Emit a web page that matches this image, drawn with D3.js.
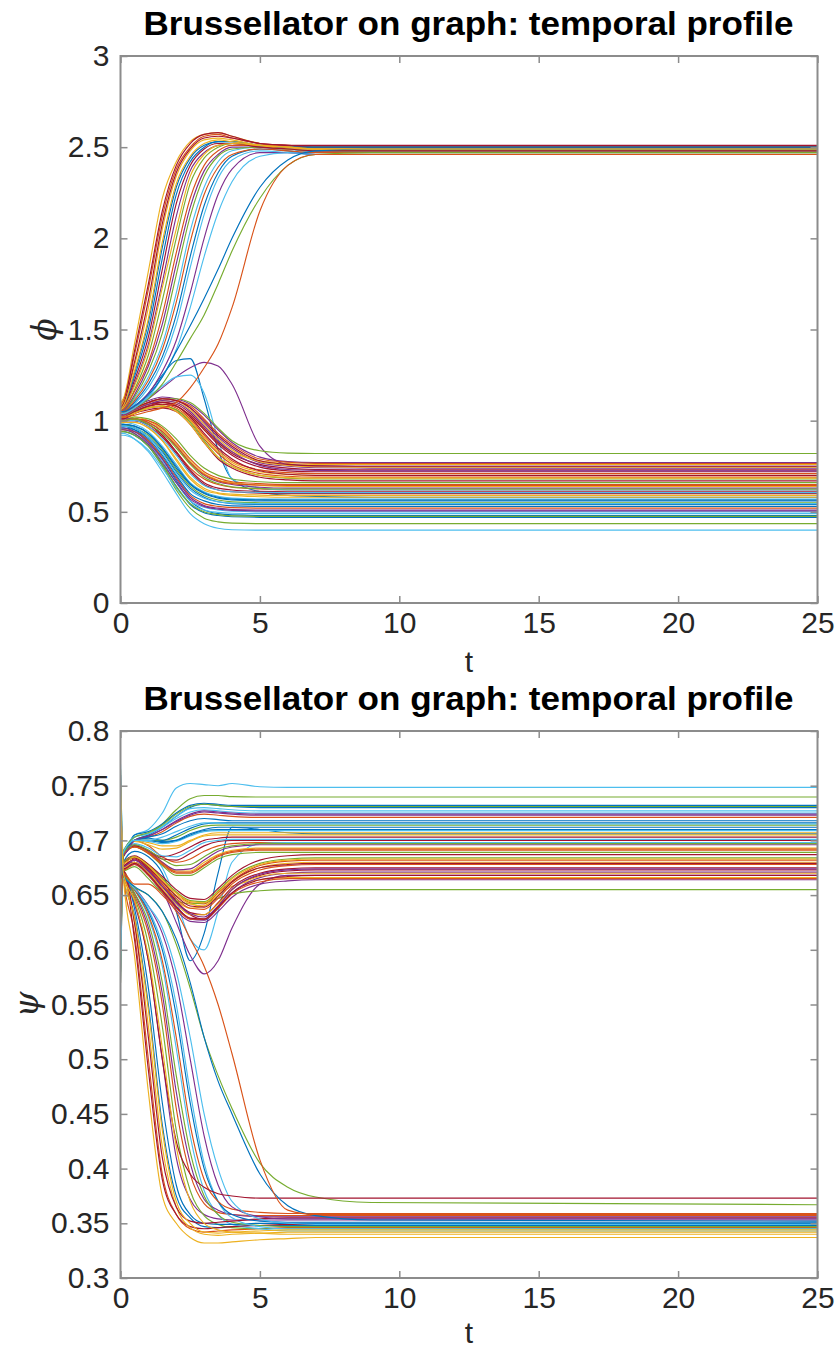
<!DOCTYPE html>
<html><head><meta charset="utf-8">
<script src="https://cdn.jsdelivr.net/npm/d3@7"></script>
<style>body{margin:0;background:#fff}svg{display:block}</style>
</head><body>
<script>
// ---------- DATA ----------
const tSamples = [0, 0.1, 0.5, 1, 1.5, 2, 2.5, 3, 3.5, 4, 5, 6, 7, 9, 25];

// phi for nodes that go to the upper steady state (~2.5)
const phiUpper = [
 [1.07,1.08,1.26,1.54,1.95,2.28,2.44,2.51,2.53,2.53,2.51,2.50,2.50,2.50,2.50],
 [1.09,1.11,1.36,1.72,2.12,2.38,2.50,2.56,2.57,2.55,2.52,2.51,2.50,2.50,2.50],
 [1.10,1.12,1.42,1.82,2.22,2.42,2.53,2.57,2.58,2.56,2.52,2.50,2.49,2.49,2.49],
 [1.05,1.06,1.20,1.42,1.76,2.12,2.37,2.47,2.51,2.52,2.50,2.49,2.49,2.49,2.49],
 [1.04,1.05,1.17,1.36,1.66,2.00,2.30,2.44,2.50,2.52,2.51,2.50,2.50,2.50,2.50],
 [1.04,1.05,1.12,1.24,1.42,1.70,2.04,2.28,2.42,2.48,2.50,2.49,2.47,2.47,2.47],
 [1.08,1.10,1.38,1.75,2.15,2.40,2.52,2.57,2.58,2.56,2.52,2.51,2.50,2.50,2.50],
 [1.05,1.07,1.24,1.50,1.89,2.24,2.42,2.50,2.53,2.53,2.51,2.50,2.50,2.50,2.50],
 [1.05,1.06,1.16,1.32,1.58,1.92,2.22,2.40,2.48,2.51,2.51,2.50,2.49,2.49,2.49],
 [1.08,1.10,1.30,1.62,2.05,2.34,2.48,2.54,2.55,2.54,2.51,2.50,2.49,2.49,2.49],
 [1.04,1.05,1.14,1.30,1.53,1.86,2.17,2.37,2.46,2.50,2.50,2.49,2.48,2.48,2.48],
 [1.05,1.05,1.13,1.27,1.48,1.80,2.12,2.34,2.45,2.49,2.50,2.49,2.48,2.48,2.48],
 [1.04,1.04,1.09,1.18,1.32,1.53,1.84,2.13,2.33,2.43,2.48,2.47,2.46,2.46,2.46],
 [1.07,1.09,1.32,1.66,2.08,2.36,2.49,2.55,2.56,2.55,2.52,2.51,2.51,2.51,2.51],
 [1.03,1.04,1.10,1.20,1.35,1.58,1.90,2.18,2.36,2.45,2.49,2.48,2.46,2.46,2.46],
 [1.05,1.05,1.11,1.22,1.39,1.65,1.98,2.24,2.39,2.46,2.49,2.48,2.47,2.47,2.47],
 [1.06,1.08,1.27,1.56,1.98,2.30,2.45,2.52,2.54,2.53,2.51,2.49,2.49,2.49,2.49],
 [1.03,1.04,1.08,1.15,1.27,1.44,1.70,2.00,2.24,2.38,2.47,2.47,2.46,2.46,2.46],
 [1.04,1.04,1.07,1.12,1.20,1.32,1.45,1.58,1.75,1.93,2.22,2.40,2.46,2.47,2.47],
 [1.04,1.04,1.07,1.13,1.24,1.39,1.62,1.90,2.14,2.31,2.45,2.47,2.46,2.46,2.46],
 [1.06,1.07,1.22,1.46,1.83,2.19,2.40,2.49,2.52,2.52,2.50,2.49,2.48,2.48,2.48],
 [1.05,1.05,1.08,1.14,1.24,1.38,1.52,1.67,1.83,2.00,2.28,2.43,2.48,2.49,2.49],
 [1.02,1.02,1.03,1.05,1.07,1.10,1.18,1.29,1.42,1.62,2.15,2.40,2.46,2.46,2.46],
 [1.06,1.07,1.19,1.40,1.73,2.05,2.34,2.46,2.51,2.52,2.51,2.50,2.49,2.49,2.49]
];

// psi for the same nodes (they go to the lower steady state ~0.35)
const psiLower = [
 [0.69,0.667,0.632,0.55,0.44,0.375,0.355,0.347,0.346,0.347,0.348,0.348,0.348,0.348,0.348],
 [0.70,0.668,0.615,0.50,0.395,0.358,0.345,0.342,0.343,0.344,0.345,0.346,0.346,0.346,0.346],
 [0.765,0.668,0.595,0.47,0.375,0.350,0.337,0.332,0.332,0.333,0.335,0.336,0.337,0.337,0.337],
 [0.60,0.665,0.642,0.59,0.50,0.41,0.372,0.358,0.354,0.353,0.353,0.353,0.353,0.353,0.353],
 [0.67,0.668,0.648,0.605,0.53,0.435,0.38,0.357,0.349,0.346,0.345,0.345,0.345,0.345,0.345],
 [0.76,0.67,0.655,0.63,0.585,0.51,0.43,0.38,0.358,0.349,0.345,0.343,0.343,0.343,0.343],
 [0.62,0.67,0.61,0.49,0.39,0.358,0.347,0.345,0.346,0.347,0.348,0.349,0.349,0.349,0.349],
 [0.64,0.672,0.638,0.565,0.46,0.385,0.358,0.350,0.349,0.349,0.350,0.350,0.350,0.350,0.350],
 [0.63,0.672,0.65,0.615,0.55,0.455,0.395,0.368,0.36,0.358,0.357,0.357,0.357,0.357,0.357],
 [0.58,0.665,0.625,0.53,0.42,0.365,0.346,0.340,0.339,0.340,0.341,0.342,0.342,0.342,0.342],
 [0.72,0.668,0.652,0.62,0.56,0.47,0.405,0.372,0.362,0.358,0.356,0.356,0.356,0.356,0.356],
 [0.59,0.667,0.652,0.625,0.57,0.485,0.415,0.375,0.358,0.351,0.348,0.347,0.347,0.347,0.347],
 [0.73,0.67,0.656,0.637,0.605,0.55,0.47,0.405,0.37,0.355,0.347,0.345,0.345,0.345,0.345],
 [0.66,0.672,0.625,0.52,0.41,0.365,0.352,0.350,0.351,0.352,0.354,0.355,0.355,0.355,0.355],
 [0.61,0.666,0.655,0.635,0.60,0.54,0.46,0.40,0.37,0.358,0.352,0.351,0.351,0.351,0.351],
 [0.65,0.668,0.655,0.632,0.59,0.52,0.44,0.39,0.37,0.363,0.36,0.359,0.359,0.359,0.359],
 [0.74,0.67,0.63,0.545,0.435,0.37,0.350,0.342,0.341,0.342,0.343,0.344,0.344,0.344,0.344],
 [0.68,0.668,0.657,0.64,0.615,0.57,0.50,0.43,0.385,0.365,0.356,0.354,0.354,0.354,0.354],
 [0.66,0.667,0.657,0.65,0.635,0.605,0.565,0.52,0.485,0.455,0.405,0.383,0.374,0.369,0.367],
 [0.57,0.665,0.656,0.64,0.62,0.58,0.52,0.45,0.40,0.37,0.354,0.350,0.349,0.349,0.349],
 [0.71,0.67,0.645,0.59,0.50,0.425,0.395,0.383,0.377,0.375,0.373,0.373,0.373,0.373,0.373],
 [0.70,0.668,0.658,0.65,0.635,0.61,0.57,0.52,0.48,0.45,0.395,0.366,0.357,0.353,0.352],
 [0.62,0.67,0.66,0.66,0.65,0.635,0.61,0.585,0.55,0.505,0.408,0.362,0.358,0.358,0.358],
 [0.75,0.67,0.645,0.595,0.51,0.42,0.37,0.350,0.344,0.342,0.341,0.340,0.340,0.340,0.340]
];

// phi for nodes that go to the lower steady state (~0.4-0.8)
const phiLower = [
 [1.05,1.05,1.08,1.15,1.25,1.33,1.34,1.12,0.84,0.68,0.61,0.59,0.585,0.58,0.58],
 [1.00,1.00,1.01,0.98,0.92,0.83,0.74,0.68,0.65,0.635,0.625,0.62,0.62,0.62,0.62],
 [1.03,1.03,1.06,1.09,1.10,1.08,1.02,0.95,0.88,0.83,0.78,0.765,0.76,0.76,0.76],
 [1.04,1.04,1.07,1.12,1.18,1.24,1.29,1.32,1.30,1.20,0.86,0.76,0.752,0.75,0.75],
 [0.95,0.95,0.93,0.86,0.75,0.62,0.52,0.465,0.445,0.438,0.435,0.435,0.435,0.435,0.435],
 [1.06,1.06,1.08,1.13,1.19,1.24,1.25,1.15,0.90,0.68,0.63,0.62,0.62,0.62,0.62],
 [1.02,1.02,1.05,1.08,1.10,1.09,1.04,0.96,0.88,0.82,0.76,0.74,0.732,0.73,0.73],
 [0.97,0.97,0.95,0.89,0.79,0.67,0.56,0.51,0.49,0.483,0.48,0.48,0.48,0.48,0.48],
 [1.01,1.01,1.04,1.07,1.08,1.06,1.00,0.90,0.82,0.76,0.71,0.695,0.69,0.69,0.69],
 [0.99,0.99,0.99,0.96,0.89,0.78,0.68,0.62,0.60,0.59,0.583,0.58,0.58,0.58,0.58],
 [1.05,1.05,1.08,1.11,1.13,1.12,1.09,1.03,0.95,0.88,0.80,0.775,0.77,0.77,0.77],
 [1.03,1.03,1.06,1.10,1.12,1.12,1.10,1.04,0.96,0.89,0.835,0.822,0.82,0.82,0.82],
 [0.93,0.93,0.90,0.83,0.72,0.60,0.49,0.435,0.41,0.402,0.40,0.40,0.40,0.40,0.40],
 [1.00,1.00,1.00,0.97,0.91,0.82,0.72,0.65,0.62,0.61,0.603,0.60,0.60,0.60,0.60],
 [0.94,0.94,0.92,0.86,0.76,0.64,0.54,0.495,0.48,0.473,0.47,0.47,0.47,0.47,0.47],
 [1.02,1.02,1.05,1.08,1.09,1.07,1.01,0.92,0.84,0.78,0.73,0.715,0.71,0.71,0.71],
 [1.01,1.01,1.02,1.00,0.95,0.87,0.78,0.71,0.675,0.66,0.645,0.64,0.64,0.64,0.64],
 [1.04,1.04,1.07,1.10,1.12,1.11,1.07,0.99,0.91,0.85,0.77,0.75,0.742,0.74,0.74],
 [1.00,1.00,1.02,1.01,0.97,0.90,0.81,0.74,0.70,0.68,0.665,0.66,0.66,0.66,0.66],
 [0.96,0.96,0.94,0.88,0.78,0.66,0.56,0.525,0.51,0.503,0.50,0.50,0.50,0.50,0.50],
 [1.03,1.03,1.06,1.09,1.10,1.08,1.03,0.95,0.87,0.81,0.745,0.725,0.72,0.72,0.72],
 [0.98,0.98,0.97,0.93,0.85,0.74,0.65,0.60,0.575,0.565,0.56,0.56,0.56,0.56,0.56],
 [0.95,0.95,0.94,0.89,0.80,0.69,0.59,0.545,0.53,0.523,0.52,0.52,0.52,0.52,0.52],
 [1.02,1.02,1.04,1.07,1.08,1.06,1.00,0.91,0.83,0.77,0.72,0.705,0.70,0.70,0.70],
 [1.01,1.01,1.01,0.99,0.94,0.86,0.77,0.70,0.665,0.65,0.635,0.63,0.63,0.63,0.63],
 [0.98,0.98,0.96,0.92,0.84,0.73,0.64,0.59,0.565,0.555,0.55,0.55,0.55,0.55,0.55],
 [0.92,0.92,0.90,0.84,0.74,0.63,0.545,0.51,0.497,0.492,0.49,0.49,0.49,0.49,0.49],
 [1.01,1.01,1.04,1.06,1.07,1.05,0.98,0.88,0.79,0.74,0.69,0.675,0.67,0.67,0.67],
 [0.97,0.97,0.96,0.91,0.83,0.72,0.63,0.58,0.555,0.545,0.54,0.54,0.54,0.54,0.54],
 [1.00,1.00,1.01,1.00,0.96,0.88,0.79,0.72,0.685,0.665,0.655,0.65,0.65,0.65,0.65],
 [1.03,1.03,1.06,1.10,1.11,1.10,1.06,0.98,0.90,0.84,0.775,0.755,0.747,0.745,0.745],
 [0.95,0.95,0.93,0.87,0.77,0.66,0.57,0.53,0.515,0.508,0.505,0.505,0.505,0.505,0.505],
 [1.02,1.02,1.05,1.07,1.08,1.06,0.99,0.89,0.80,0.75,0.70,0.685,0.68,0.68,0.68],
 [0.99,0.99,0.98,0.94,0.86,0.76,0.66,0.61,0.585,0.575,0.57,0.57,0.57,0.57,0.57],
 [1.00,1.00,1.00,0.98,0.92,0.83,0.73,0.66,0.63,0.62,0.612,0.61,0.61,0.61,0.61],
 [0.96,0.96,0.95,0.90,0.81,0.70,0.60,0.56,0.54,0.533,0.53,0.53,0.53,0.53,0.53],
 [1.04,1.04,1.07,1.10,1.12,1.11,1.08,1.01,0.93,0.87,0.79,0.772,0.766,0.765,0.765],
 [0.99,0.99,0.99,0.96,0.89,0.79,0.69,0.63,0.605,0.597,0.592,0.59,0.59,0.59,0.59],
 [1.03,1.03,1.06,1.09,1.11,1.10,1.05,0.97,0.89,0.83,0.755,0.732,0.727,0.725,0.725],
 [0.94,0.94,0.92,0.86,0.76,0.64,0.545,0.50,0.485,0.478,0.475,0.475,0.475,0.475,0.475],
 [1.00,1.00,1.00,0.97,0.90,0.81,0.71,0.645,0.62,0.61,0.607,0.605,0.605,0.605,0.605],
 [1.02,1.02,1.05,1.08,1.09,1.08,1.02,0.93,0.85,0.79,0.725,0.706,0.70,0.70,0.70],
 [0.98,0.98,0.97,0.93,0.85,0.75,0.655,0.605,0.58,0.57,0.566,0.565,0.565,0.565,0.565],
 [1.00,1.00,1.01,0.99,0.94,0.86,0.77,0.705,0.67,0.655,0.647,0.645,0.645,0.645,0.645],
 [1.02,1.02,1.04,1.07,1.08,1.05,0.98,0.88,0.80,0.75,0.70,0.688,0.685,0.685,0.685],
 [0.96,0.96,0.94,0.88,0.79,0.68,0.58,0.535,0.52,0.513,0.51,0.51,0.51,0.51,0.51],
 [1.00,1.00,1.01,0.98,0.93,0.85,0.76,0.69,0.655,0.637,0.628,0.625,0.625,0.625,0.625],
 [0.97,0.97,0.96,0.91,0.82,0.71,0.62,0.575,0.555,0.548,0.545,0.545,0.545,0.545,0.545],
 [1.04,1.04,1.07,1.10,1.12,1.11,1.07,1.00,0.92,0.86,0.78,0.76,0.752,0.75,0.75]
];

// psi for the same nodes (they go to the upper steady state ~0.65-0.75)
const psiUpper = [
 [0.64,0.68,0.69,0.685,0.67,0.635,0.59,0.615,0.67,0.712,0.71,0.707,0.706,0.706,0.706],
 [0.72,0.69,0.70,0.695,0.685,0.68,0.683,0.69,0.695,0.697,0.698,0.698,0.698,0.698,0.698],
 [0.59,0.675,0.68,0.67,0.658,0.645,0.638,0.64,0.65,0.658,0.664,0.666,0.666,0.666,0.666],
 [0.70,0.68,0.685,0.675,0.655,0.625,0.595,0.578,0.59,0.62,0.66,0.668,0.668,0.668,0.668],
 [0.60,0.685,0.70,0.705,0.715,0.728,0.738,0.741,0.741,0.740,0.7397,0.7397,0.7397,0.7397,0.7397],
 [0.76,0.69,0.695,0.69,0.675,0.645,0.61,0.60,0.635,0.68,0.697,0.698,0.698,0.698,0.698],
 [0.66,0.675,0.68,0.672,0.66,0.645,0.632,0.628,0.64,0.655,0.668,0.672,0.673,0.673,0.673],
 [0.58,0.685,0.70,0.705,0.712,0.722,0.73,0.733,0.732,0.731,0.730,0.730,0.730,0.730,0.730],
 [0.74,0.68,0.685,0.678,0.665,0.652,0.643,0.642,0.652,0.663,0.677,0.681,0.682,0.682,0.682],
 [0.67,0.69,0.70,0.698,0.695,0.695,0.70,0.705,0.707,0.707,0.707,0.707,0.707,0.707,0.707],
 [0.62,0.672,0.678,0.668,0.652,0.636,0.626,0.625,0.635,0.648,0.66,0.663,0.664,0.664,0.664],
 [0.71,0.672,0.676,0.665,0.652,0.645,0.642,0.643,0.647,0.651,0.654,0.655,0.655,0.655,0.655],
 [0.765,0.69,0.705,0.71,0.725,0.748,0.752,0.751,0.75,0.752,0.749,0.7485,0.7485,0.7485,0.7485],
 [0.63,0.685,0.695,0.69,0.685,0.688,0.694,0.70,0.702,0.703,0.703,0.703,0.703,0.703,0.703],
 [0.70,0.69,0.705,0.708,0.715,0.725,0.732,0.734,0.733,0.732,0.732,0.732,0.732,0.732,0.732],
 [0.57,0.676,0.682,0.674,0.66,0.647,0.638,0.637,0.647,0.66,0.673,0.677,0.678,0.678,0.678],
 [0.73,0.688,0.695,0.69,0.68,0.672,0.672,0.68,0.687,0.691,0.693,0.693,0.693,0.693,0.693],
 [0.65,0.674,0.68,0.67,0.655,0.64,0.628,0.627,0.638,0.652,0.666,0.67,0.671,0.671,0.671],
 [0.68,0.686,0.694,0.688,0.677,0.668,0.668,0.675,0.683,0.687,0.689,0.689,0.689,0.689,0.689],
 [0.61,0.688,0.703,0.706,0.712,0.72,0.726,0.728,0.727,0.726,0.725,0.725,0.725,0.725,0.725],
 [0.75,0.677,0.683,0.673,0.658,0.644,0.634,0.632,0.643,0.657,0.67,0.674,0.675,0.675,0.675],
 [0.66,0.69,0.70,0.70,0.698,0.70,0.706,0.71,0.712,0.712,0.712,0.712,0.712,0.712,0.712],
 [0.72,0.687,0.70,0.703,0.708,0.716,0.722,0.724,0.723,0.722,0.721,0.721,0.721,0.721,0.721],
 [0.59,0.678,0.684,0.676,0.663,0.65,0.642,0.64,0.65,0.662,0.675,0.679,0.68,0.68,0.68],
 [0.69,0.688,0.696,0.69,0.68,0.673,0.674,0.682,0.69,0.694,0.696,0.696,0.696,0.696,0.696],
 [0.64,0.69,0.70,0.70,0.70,0.703,0.709,0.713,0.714,0.714,0.714,0.714,0.714,0.714,0.714],
 [0.77,0.688,0.703,0.706,0.713,0.722,0.729,0.73,0.729,0.728,0.727,0.727,0.727,0.727,0.727],
 [0.62,0.68,0.686,0.678,0.667,0.655,0.647,0.646,0.656,0.668,0.682,0.686,0.687,0.687,0.687],
 [0.70,0.69,0.70,0.702,0.70,0.705,0.711,0.715,0.716,0.716,0.716,0.716,0.716,0.716,0.716],
 [0.61,0.687,0.694,0.688,0.678,0.67,0.67,0.677,0.685,0.689,0.691,0.691,0.691,0.691,0.691],
 [0.75,0.675,0.68,0.67,0.656,0.642,0.632,0.632,0.642,0.655,0.667,0.67,0.67,0.67,0.67],
 [0.58,0.687,0.70,0.704,0.71,0.718,0.724,0.727,0.726,0.725,0.724,0.724,0.724,0.724,0.724],
 [0.67,0.68,0.685,0.677,0.665,0.653,0.645,0.644,0.654,0.666,0.679,0.683,0.684,0.684,0.684],
 [0.74,0.69,0.70,0.699,0.697,0.699,0.704,0.708,0.709,0.709,0.709,0.709,0.709,0.709,0.709],
 [0.60,0.686,0.695,0.691,0.683,0.682,0.688,0.695,0.699,0.70,0.70,0.70,0.70,0.70,0.70],
 [0.66,0.688,0.70,0.703,0.706,0.713,0.718,0.72,0.719,0.718,0.718,0.718,0.718,0.718,0.718],
 [0.71,0.673,0.678,0.668,0.653,0.638,0.628,0.628,0.638,0.651,0.662,0.665,0.665,0.665,0.665],
 [0.63,0.69,0.699,0.696,0.692,0.693,0.699,0.704,0.705,0.705,0.705,0.705,0.705,0.705,0.705],
 [0.76,0.676,0.682,0.672,0.658,0.643,0.633,0.63,0.64,0.655,0.669,0.673,0.674,0.674,0.674],
 [0.57,0.688,0.703,0.707,0.714,0.724,0.731,0.733,0.732,0.731,0.731,0.731,0.731,0.731,0.731],
 [0.69,0.688,0.697,0.693,0.686,0.685,0.691,0.698,0.70,0.701,0.701,0.701,0.701,0.701,0.701],
 [0.65,0.678,0.684,0.675,0.662,0.649,0.64,0.639,0.649,0.662,0.675,0.678,0.679,0.679,0.679],
 [0.72,0.69,0.70,0.70,0.699,0.70,0.705,0.709,0.71,0.71,0.71,0.71,0.71,0.71,0.71],
 [0.62,0.687,0.694,0.689,0.679,0.671,0.671,0.678,0.686,0.69,0.692,0.692,0.692,0.692,0.692],
 [0.68,0.679,0.685,0.677,0.664,0.652,0.644,0.643,0.653,0.665,0.678,0.682,0.683,0.683,0.683],
 [0.74,0.687,0.70,0.704,0.71,0.717,0.723,0.726,0.725,0.724,0.723,0.723,0.723,0.723,0.723],
 [0.59,0.688,0.696,0.691,0.683,0.677,0.678,0.685,0.692,0.695,0.697,0.697,0.697,0.697,0.697],
 [0.67,0.689,0.70,0.70,0.703,0.708,0.713,0.716,0.716,0.715,0.715,0.715,0.715,0.715,0.715],
 [0.73,0.674,0.679,0.669,0.654,0.639,0.629,0.628,0.639,0.652,0.664,0.667,0.668,0.668,0.668]
];

const xTicks = [0, 5, 10, 15, 20, 25];
const phiTicks = [0, 0.5, 1, 1.5, 2, 2.5, 3];
const phiTickLabels = ["0", "0.5", "1", "1.5", "2", "2.5", "3"];
const psiTicks = [0.3, 0.35, 0.4, 0.45, 0.5, 0.55, 0.6, 0.65, 0.7, 0.75, 0.8];
const psiTickLabels = ["0.3", "0.35", "0.4", "0.45", "0.5", "0.55", "0.6", "0.65", "0.7", "0.75", "0.8"];
const titleText = "Brussellator on graph: temporal profile";

// ---------- STYLE ----------
const palette = ["#0072BD", "#D95319", "#EDB120", "#7E2F8E", "#77AC30", "#4DBEEE", "#A2142F"];
const W = 838, H = 1351;
const left = 120.5, right = 817.5;
const axisColor = "#8c8c8c", textColor = "#262626";
const fontSans = "'Liberation Sans', Arial, Helvetica, sans-serif";

const svg = d3.select("body").append("svg").attr("width", W).attr("height", H);

function drawPanel(cfg) {
  const x = d3.scaleLinear().domain([0, 25]).range([left, right]);
  const y = d3.scaleLinear().domain(cfg.domain).range([cfg.bottom, cfg.top]);
  const g = svg.append("g");
  const clipId = "clip" + cfg.id;
  g.append("clipPath").attr("id", clipId).append("rect")
    .attr("x", left).attr("y", cfg.top).attr("width", right - left).attr("height", cfg.bottom - cfg.top);

  const line = d3.line().x((d, i) => x(tSamples[i])).y(d => y(d)).curve(d3.curveMonotoneX);
  const lg = g.append("g").attr("clip-path", `url(#${clipId})`);
  cfg.groups.forEach(grp => {
    grp.forEach((s, i) => {
      lg.append("path").attr("d", line(s)).attr("fill", "none")
        .attr("stroke", palette[i % 7]).attr("stroke-width", 1.15);
    });
  });

  const ax = (gen, tr) => {
    const a = g.append("g").attr("transform", tr).call(gen);
    a.select(".domain").remove();
    a.selectAll(".tick line").attr("stroke", axisColor).attr("stroke-width", 1.5);
    a.selectAll(".tick text").attr("fill", textColor).style("font-family", fontSans).style("font-size", "30px");
    return a;
  };
  ax(d3.axisBottom(x).tickValues(xTicks).tickSize(-7).tickPadding(9).tickFormat(d => d), `translate(0,${cfg.bottom})`);
  ax(d3.axisTop(x).tickValues(xTicks).tickSize(-7).tickFormat(""), `translate(0,${cfg.top})`);
  ax(d3.axisLeft(y).tickValues(cfg.ticks).tickSize(-7).tickPadding(11).tickFormat((d, i) => cfg.tickLabels[i]), `translate(${left},0)`);
  ax(d3.axisRight(y).tickValues(cfg.ticks).tickSize(-7).tickFormat(""), `translate(${right},0)`);
  g.append("rect").attr("x", left).attr("y", cfg.top).attr("width", right - left).attr("height", cfg.bottom - cfg.top)
    .attr("fill", "none").attr("stroke", axisColor).attr("stroke-width", 2);

  g.append("text").attr("x", (left + right) / 2 - 0.5).attr("y", cfg.top - 21)
    .attr("text-anchor", "middle").attr("fill", "#000")
    .attr("textLength", 650).attr("lengthAdjust", "spacingAndGlyphs")
    .style("font-family", fontSans).style("font-weight", "bold").style("font-size", "33px")
    .text(titleText);
  g.append("text").attr("x", (left + right) / 2).attr("y", cfg.bottom + cfg.xlabelDy)
    .attr("text-anchor", "middle").attr("fill", textColor)
    .style("font-family", fontSans).style("font-size", "30px").text("t");
  g.append("text").attr("transform", `translate(${cfg.ylabelX},${(cfg.top + cfg.bottom) / 2}) rotate(-90)`)
    .attr("text-anchor", "middle").attr("dy", "0.35em").attr("fill", textColor)
    .style("font-family", "'DejaVu Serif', 'Liberation Serif', serif").style("font-style", "italic").style("font-size", "33px")
    .text(cfg.ylabel);
}

drawPanel({ id: 1, top: 56, bottom: 603, domain: [0, 3], ticks: phiTicks, tickLabels: phiTickLabels,
  groups: [phiLower, phiUpper], ylabel: "\u03d5", ylabelX: 44, xlabelDy: 69 });
drawPanel({ id: 2, top: 731, bottom: 1278, domain: [0.3, 0.8], ticks: psiTicks, tickLabels: psiTickLabels,
  groups: [psiUpper, psiLower], ylabel: "\u03c8", ylabelX: 26, xlabelDy: 65 });
</script>
</body></html>
